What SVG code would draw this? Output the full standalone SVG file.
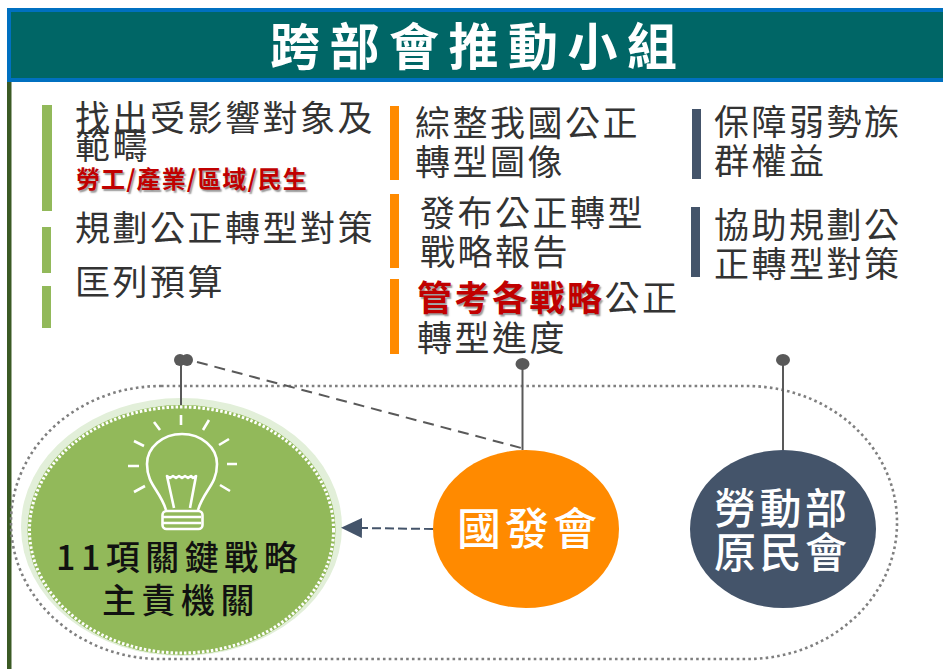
<svg xmlns="http://www.w3.org/2000/svg" width="943" height="669" viewBox="0 0 943 669">
<style>
text{font-family:"Noto Sans CJK TC","Noto Sans",sans-serif;}
.t{font-size:35px;letter-spacing:2.500px;fill:#333;font-weight:400;}
.r{fill:#c00000;font-weight:700;text-shadow:1.5px 1.5px 1.5px #999;}
.w{fill:#fff;font-weight:500;}
.g{fill:#92b95a;}.o{fill:#ff8a00;}.s{fill:#44546a;}
.pin{fill:#595959;}
.ln{stroke:#595959;stroke-width:2;fill:none;}
.bulb{stroke:#fff;stroke-width:2.600;fill:none;stroke-linejoin:round;}
</style>
<defs>
<marker id="ah" markerUnits="userSpaceOnUse" markerWidth="22" markerHeight="22" refX="1" refY="10" orient="auto"><path d="M0 10L21 0V20Z" fill="#44546a" transform="rotate(180 10.5 10)"/></marker>
</defs>
<rect width="943" height="669" fill="#fff"/>
<rect x="7" y="81" width="4.500" height="588" fill="#3b5a24"/>
<g id="header">
<rect x="9" y="10" width="940" height="70" fill="#006666" stroke="#0070c0" stroke-width="4"/>
<text x="270" y="65" font-size="50" font-weight="700" letter-spacing="9.500" fill="#fff">跨部會推動小組</text>
</g>
<rect id="group-outline" x="11" y="386" width="886" height="273" rx="150" ry="136" fill="none" stroke="#7f7f7f" stroke-width="2.600" stroke-dasharray="2.600 3.200"/>
<g id="col-green">
<rect x="42" y="105" width="10" height="106" class="g"/><rect x="42" y="227" width="9" height="46" class="g"/><rect x="42" y="286" width="9" height="42" class="g"/>
<text x="75" y="131" class="t">找出受影響對象及</text>
<text x="75" y="159" class="t">範疇</text>
<text x="76" y="188" font-size="24" class="r" letter-spacing="1.100">勞工/產業/區域/民生</text>
<text x="75" y="241" class="t">規劃公正轉型對策</text>
<text x="75" y="295" class="t">匡列預算</text>
</g>
<g id="col-orange">
<rect x="390" y="106" width="9" height="74" class="o"/><rect x="390" y="194" width="9" height="74" class="o"/><rect x="390" y="279" width="9" height="75" class="o"/>
<text x="415" y="136" class="t">綜整我國公正</text>
<text x="415" y="175" class="t">轉型圖像</text>
<text x="420" y="226" class="t">發布公正轉型</text>
<text x="420" y="265" class="t">戰略報告</text>
<text x="417" y="311" class="t"><tspan class="r">管考各戰略</tspan>公正</text>
<text x="417" y="351" class="t">轉型進度</text>
</g>
<g id="col-slate">
<rect x="692" y="109" width="9" height="70" class="s"/><rect x="691" y="207" width="9" height="70" class="s"/>
<text x="714" y="135" class="t">保障弱勢族</text>
<text x="714" y="174" class="t">群權益</text>
<text x="714" y="238" class="t">協助規劃公</text>
<text x="714" y="277" class="t">正轉型對策</text>
</g>
<g id="node-ministries">
<ellipse cx="181.500" cy="527" rx="160.500" ry="129" fill="#e2efd9"/>
<ellipse cx="181.500" cy="530" rx="154" ry="125" class="g"/>
<ellipse cx="181.500" cy="530" rx="152" ry="123" fill="none" stroke="#fff" stroke-width="3" stroke-dasharray="2.500 2"/>
<g class="bulb">
<path d="M166 510C160 490 147 485 147 464A35 30 0 0 1 217 464C217 485 204 490 198 510"/>
<path d="M174 508L167 476l3 2 3-2 3 2 3-2 3 2 3-2 3 2 3-2 2 2 3-2L190 508"/>
<rect x="162.500" y="511" width="40" height="18" rx="4"/>
<path d="M163 517H201M163 523H201"/>
<path d="M181 415V425M154 422L160 430M209 420L203 430M134 441L144 446M229 439L219 445M128 466H139M227 464H237M134 492L145 486M220 485L230 491"/>
</g>
<text x="56" y="570" font-size="34" font-weight="500" letter-spacing="5.500" fill="#111">11項關鍵戰略</text>
<text x="102" y="613" font-size="34" font-weight="500" letter-spacing="5.500" fill="#111">主責機關</text>
</g>
<g id="node-ndc">
<ellipse cx="526" cy="529" rx="93" ry="79" class="o"/>
<text x="457" y="545" font-size="44" letter-spacing="4" class="w">國發會</text>
</g>
<g id="node-labor">
<ellipse cx="783" cy="529" rx="93" ry="79" class="s"/>
<text x="714" y="524" font-size="42" letter-spacing="3.500" class="w">勞動部</text>
<text x="714" y="568" font-size="42" letter-spacing="3.500" class="w">原民會</text>
</g>
<g id="connectors">
<line x1="181" y1="360" x2="181" y2="405" class="ln"/>
<line x1="197" y1="362" x2="525" y2="449" class="ln" stroke-dasharray="11 7"/>
<line x1="522.500" y1="364" x2="522.500" y2="450" class="ln"/>
<line x1="783" y1="360" x2="783" y2="450" class="ln"/>
<line x1="433" y1="529" x2="361" y2="528" stroke="#44546a" stroke-width="2" stroke-dasharray="9 4" marker-end="url(#ah)"/>
<ellipse cx="180" cy="360" rx="6" ry="6" class="pin"/><ellipse cx="187" cy="360" rx="6" ry="6" class="pin"/>
<ellipse cx="522.500" cy="364" rx="7" ry="6" class="pin"/>
<ellipse cx="783" cy="360" rx="7" ry="6" class="pin"/>
</g>
</svg>
